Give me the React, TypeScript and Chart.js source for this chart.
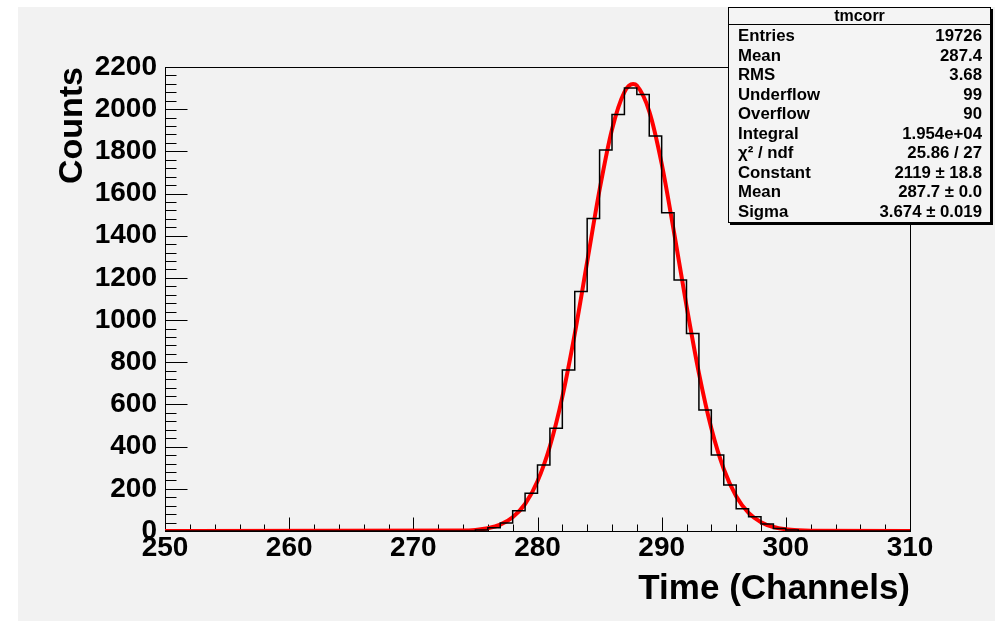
import React, { useEffect, useRef } from "react";
import { Chart, registerables } from "chart.js";

Chart.register(...registerables);

// ---- data ----
const binEdges = [275, 276, 277, 278, 279, 280, 281, 282, 283, 284, 285, 286, 287, 288, 289, 290, 291, 292, 293, 294, 295, 296, 297, 298, 299, 300];
const binCounts = [5, 15, 38, 96, 179, 313, 487, 763, 1135, 1482, 1806, 1975, 2100, 2070, 1873, 1509, 1190, 937, 574, 360, 218, 105, 68, 33, 12, 5];

const fitX = [250, 274, 275, 276, 277, 278, 279, 280, 281, 282, 283, 284, 285, 286, 287, 287.7, 288, 289, 290, 291, 292, 293, 294, 295, 296, 297, 298, 299, 300, 301, 302, 310];
const fitY = [0, 2, 5, 13, 30, 65, 128, 236, 402, 636, 935, 1276, 1618, 1904, 2081, 2119, 2112, 1990, 1742, 1415, 1068, 749, 487, 294, 165, 86, 42, 19, 8, 3, 1, 0];

const xRange = [250, 310];
const yRange = [0, 2200];
const xMajor = 10;
const xMinor = 2;
const yMajor = 200;
const yMinor = 40;

const statsTitle = "tmcorr";
const statsLabels = ["Entries", "Mean", "RMS", "Underflow", "Overflow", "Integral", "χ² / ndf", "Constant", "Mean", "Sigma"];
const statsValues = ["19726", "287.4", "3.68", "99", "90", "1.954e+04", "25.86 / 27", "2119 ± 18.8", "287.7 ± 0.0", "3.674 ± 0.019"];

const FONT = "'Liberation Sans', Arial, Helvetica, sans-serif";

const framePlugin = {
  id: "rootFrame",
  beforeDatasetsDraw(chart: any) {
    const { ctx, chartArea: a, scales } = chart;
    const x = scales.x;
    const y = scales.y;
    ctx.save();
    ctx.strokeStyle = "#000";
    ctx.lineWidth = 1;
    const L = Math.round(a.left) + 0.5;
    const R = Math.round(a.right) + 0.5;
    const T = Math.round(a.top) + 0.5;
    const B = Math.round(a.bottom) + 0.5;
    ctx.strokeRect(L, T, R - L, B - T);
    ctx.beginPath();
    for (let v = yRange[0]; v <= yRange[1] + 1e-9; v += yMinor) {
      const py = Math.round(y.getPixelForValue(v)) + 0.5;
      const len = Math.abs(v % yMajor) < 1e-9 ? 22 : 11;
      ctx.moveTo(L, py);
      ctx.lineTo(L + len, py);
    }
    for (let v = xRange[0]; v <= xRange[1] + 1e-9; v += xMinor) {
      const px = Math.round(x.getPixelForValue(v)) + 0.5;
      const len = Math.abs((v - xRange[0]) % xMajor) < 1e-9 ? 14 : 7;
      ctx.moveTo(px, B);
      ctx.lineTo(px, B - len);
    }
    ctx.stroke();
    ctx.restore();
  },
};

export default function App() {
  const ref = useRef<HTMLCanvasElement | null>(null);

  useEffect(() => {
    if (!ref.current) return;
    const histPts: { x: number; y: number }[] = [{ x: xRange[0], y: 0 }];
    binEdges.forEach((e, i) => histPts.push({ x: e, y: binCounts[i] }));
    histPts.push({ x: binEdges[binEdges.length - 1] + 1, y: 0 });
    histPts.push({ x: xRange[1], y: 0 });
    const fitPts = fitX.map((v, i) => ({ x: v, y: fitY[i] }));

    const chart = new Chart(ref.current, {
      type: "line",
      data: {
        datasets: [
          {
            label: "tmcorr",
            data: histPts,
            stepped: "before",
            borderColor: "#000",
            borderWidth: 1.5,
            pointRadius: 0,
            fill: false,
          },
          {
            label: "gaus",
            data: fitPts,
            borderColor: "#ff0000",
            borderWidth: 4,
            pointRadius: 0,
            cubicInterpolationMode: "monotone",
            fill: false,
          },
        ],
      },
      options: {
        responsive: false,
        animation: false,
        events: [],
        layout: { padding: { left: 0, top: 60, right: 85, bottom: 0 } },
        plugins: { legend: { display: false }, tooltip: { enabled: false } },
        scales: {
          x: {
            type: "linear",
            min: xRange[0],
            max: xRange[1],
            grid: { display: false },
            border: { display: false },
            ticks: {
              stepSize: xMajor,
              padding: -8,
              color: "#000",
              font: { family: FONT, size: 28, weight: "bold" },
              maxRotation: 0,
              callback: (v: any) => String(v),
            },
            title: {
              display: true,
              text: "Time (Channels)",
              align: "end",
              color: "#000",
              font: { family: FONT, size: 35, weight: "bold" },
              padding: { top: 0, bottom: 11 },
            },
            afterFit: (s: any) => {
              s.height = 90;
            },
          },
          y: {
            type: "linear",
            min: yRange[0],
            max: yRange[1],
            grid: { display: false },
            border: { display: false },
            ticks: {
              stepSize: yMajor,
              padding: 0,
              color: "#000",
              font: { family: FONT, size: 28, weight: "bold" },
              callback: (v: any) => String(v),
            },
            title: {
              display: true,
              text: "Counts",
              align: "end",
              color: "#000",
              font: { family: FONT, size: 34, weight: "bold" },
              padding: { top: 34, bottom: 0 },
            },
            afterFit: (s: any) => {
              s.width = 147;
            },
          },
        },
      },
      plugins: [framePlugin],
    });
    return () => chart.destroy();
  }, []);

  const rowTop = 35;
  const rowStep = 19.5;

  return (
    <div style={{ position: "fixed", left: 0, top: 0, width: 995, height: 621, background: "#fff", overflow: "hidden" }}>
      <div style={{ position: "absolute", left: 18, top: 7, width: 977, height: 614, background: "#f2f2f2" }}>
        <canvas ref={ref} width={977} height={614} style={{ display: "block" }} />
      </div>
      <div
        style={{
          position: "absolute",
          left: 728,
          top: 7,
          width: 261,
          height: 214,
          border: "1px solid #000",
          background: "#f4f4f4",
          boxShadow: "2px 2px 0 #000",
          fontFamily: FONT,
          fontWeight: "bold",
          color: "#000",
        }}
      >
        <div style={{ position: "absolute", left: 0, top: 0, width: "100%", height: 16, borderBottom: "1px solid #000", textAlign: "center", fontSize: 16, lineHeight: "16px" }}>
          {statsTitle}
        </div>
        {statsLabels.map((lab, i) => (
          <div
            key={i}
            style={{
              position: "absolute",
              left: 9,
              right: 8,
              top: rowTop - 17 + i * rowStep,
              height: 20,
              lineHeight: "20px",
              fontSize: 16.8,
              display: "flex",
              justifyContent: "space-between",
              whiteSpace: "nowrap",
            }}
          >
            <span>{lab}</span>
            <span>{statsValues[i]}</span>
          </div>
        ))}
      </div>
    </div>
  );
}
